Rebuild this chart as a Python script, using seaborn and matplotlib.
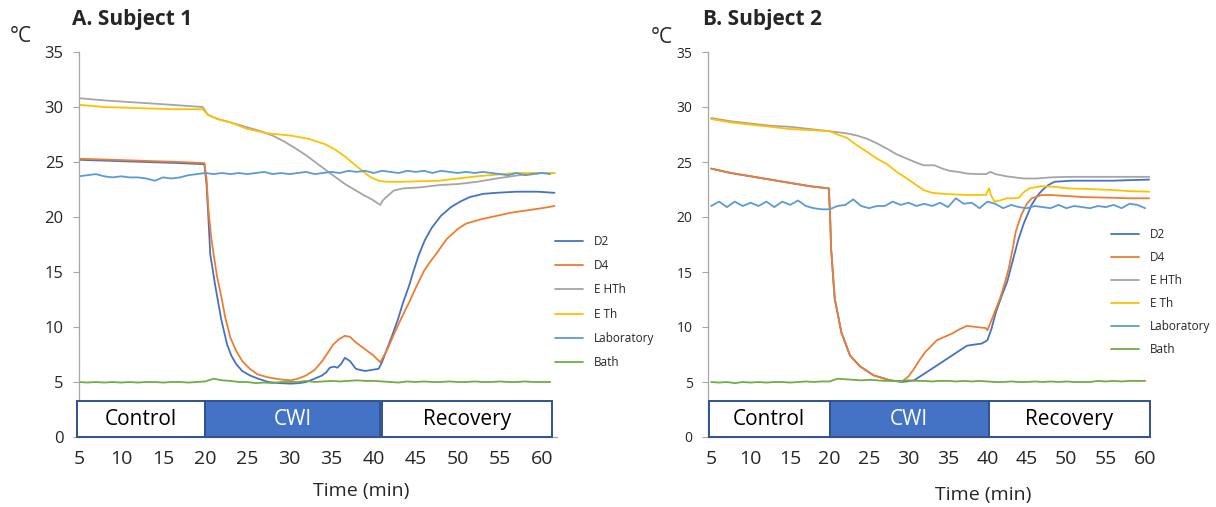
import matplotlib
matplotlib.use("Agg")
import matplotlib.pyplot as plt
from matplotlib.patches import Rectangle
import seaborn as sns

# ---------------- data: Subject 1 ----------------
a_d2_t = [5, 9, 13, 17, 19.9, 20.15, 20.35, 20.6, 21.2, 21.9, 22.6, 23.1, 23.7, 24.4, 25.3,
          26.3, 27.5, 28.8, 30.2, 31.2, 32.0, 33.0, 33.9, 34.4, 34.8, 35.3, 35.7, 36.1, 36.6,
          37.2, 37.9, 38.4, 39.0, 39.8, 40.6, 41.0, 41.5, 42.2, 42.9, 43.5, 44.2, 44.8, 45.4,
          46.1, 46.9, 48.0, 49.2, 50.3, 51.4, 53.0, 54.6, 57.0, 59.5, 61.5]
a_d2_v = [25.2, 25.1, 25.0, 24.9, 24.8, 23.0, 20.3, 16.6, 13.7, 10.7, 8.4, 7.4, 6.6, 6.0, 5.6,
          5.3, 5.0, 4.9, 4.85, 4.9, 5.0, 5.3, 5.6, 5.9, 6.3, 6.4, 6.3, 6.6, 7.2,
          6.9, 6.2, 6.1, 6.0, 6.1, 6.2, 6.8, 7.8, 9.2, 10.7, 12.2, 13.7, 15.2, 16.6,
          17.9, 19.0, 20.1, 20.9, 21.4, 21.8, 22.1, 22.2, 22.3, 22.3, 22.2]

a_d4_t = [5, 9, 13, 17, 19.9, 20.15, 20.4, 20.7, 21.0, 21.4, 21.9, 22.4, 23.0, 23.7, 24.4,
          25.3, 26.2, 27.3, 28.4, 29.3, 30.2, 31.0, 32.0, 33.0, 33.9, 34.6, 35.2, 35.9, 36.6,
          37.2, 37.9, 38.6, 39.3, 40.0, 40.8, 41.6, 42.4, 43.3, 44.2, 45.1, 46.0, 46.7, 47.4,
          48.7, 50.0, 51.0, 52.8, 54.6, 56.4, 58.2, 60.0, 61.5]
a_d4_v = [25.3, 25.2, 25.1, 25.0, 24.9, 23.5, 20.5, 18.2, 16.6, 14.6, 12.8, 10.8, 9.0, 7.8, 6.9,
          6.2, 5.7, 5.45, 5.3, 5.2, 5.15, 5.3, 5.6, 6.1, 6.9, 7.7, 8.4, 8.9, 9.2,
          9.1, 8.6, 8.2, 7.8, 7.4, 6.8, 7.9, 9.3, 10.8, 12.2, 13.7, 15.1, 15.9, 16.6,
          18.0, 18.9, 19.4, 19.8, 20.1, 20.4, 20.6, 20.8, 21.0]

a_ehth_t = [5, 8, 12, 16, 19.7, 20.3, 21.5, 23.0, 24.8, 26.6, 28.0, 29.3, 30.6, 32.0, 33.4,
            34.8, 35.7, 36.6, 37.7, 38.8, 39.8, 40.8, 41.1, 41.5, 42.4, 43.5, 45.6, 47.8,
            50.1, 52.3, 54.6, 56.4, 58.2, 60.0, 61.5]
a_ehth_v = [30.8, 30.6, 30.4, 30.2, 30.0, 29.3, 28.9, 28.6, 28.2, 27.8, 27.4, 26.9, 26.3, 25.6, 24.8,
            24.0, 23.5, 23.0, 22.5, 22.0, 21.6, 21.1, 21.5, 21.8, 22.4, 22.6, 22.7, 22.9,
            23.0, 23.2, 23.5, 23.7, 23.9, 24.0, 24.0]

a_eth_t = [5, 8, 12, 16, 19.7, 20.3, 21.5, 23.0, 25.0, 27.5, 30.2, 32.3, 34.3, 35.5, 36.6,
           37.7, 38.8, 39.7, 40.6, 41.5, 43.3, 45.5, 47.8, 50.0, 52.3, 54.6, 56.8, 59.0, 61.5]
a_eth_v = [30.2, 30.0, 29.9, 29.8, 29.8, 29.3, 28.9, 28.6, 28.0, 27.6, 27.4, 27.1, 26.6, 26.1, 25.5,
           24.8, 24.1, 23.6, 23.3, 23.2, 23.2, 23.25, 23.3, 23.5, 23.7, 23.85, 24.0, 24.0, 24.0]

a_lab_t = list(range(5, 62))
a_lab_v = [23.7, 23.8, 23.9, 23.7, 23.6, 23.7, 23.6, 23.6, 23.5, 23.3,
           23.6, 23.5, 23.6, 23.8, 23.9, 24.0, 23.9, 24.0, 23.9, 24.0,
           23.9, 24.0, 24.1, 23.9, 24.0, 23.9, 24.0, 24.1, 23.9, 24.0,
           24.1, 24.0, 24.2, 24.1, 24.2, 24.0, 24.2, 24.1, 24.0, 24.2,
           24.1, 24.2, 24.0, 24.2, 24.1, 24.0, 24.1, 24.0, 24.1, 24.0,
           23.9, 23.8, 24.0, 23.8, 23.9, 24.0, 23.9]

a_bath_t = list(range(5, 62))
a_bath_v = [5.0, 4.95, 5.0, 4.95, 5.0, 4.95, 5.0, 4.95, 5.0, 5.0,
            4.95, 5.0, 5.0, 4.95, 5.0, 5.05, 5.3, 5.15, 5.1, 5.0,
            5.0, 4.9, 4.95, 4.9, 5.0, 5.0, 5.0, 5.1, 5.0, 5.05,
            5.1, 5.05, 5.1, 5.15, 5.1, 5.1, 5.05, 5.0, 4.95, 5.05,
            5.0, 5.05, 5.0, 5.0, 5.05, 5.0, 5.0, 5.05, 5.0, 5.0,
            5.05, 5.0, 5.0, 5.05, 5.0, 5.0, 5.0]

# ---------------- data: Subject 2 ----------------
b_d2_t = [5, 7.5, 10, 12.5, 15, 17.5, 19.9, 20.05, 20.2, 20.65, 21.5, 22.6, 23.9, 25.6, 27.7,
          29.2, 30.7, 32.1, 33.6, 35.5, 37.4, 39.3, 40.0, 40.5, 41.1, 41.8, 42.5, 43.2, 43.9,
          44.6, 45.6, 46.3, 46.9, 47.7, 48.5, 50.6, 53.0, 55.9, 58.0, 60.5]
b_d2_v = [24.4, 24.0, 23.7, 23.4, 23.1, 22.8, 22.6, 20.5, 17.1, 12.6, 9.5, 7.4, 6.4, 5.6, 5.15,
          5.0, 5.15, 5.8, 6.5, 7.4, 8.3, 8.5, 8.8, 9.8, 11.4, 12.8, 14.1, 16.0, 17.9,
          19.4, 21.1, 21.9, 22.4, 22.9, 23.2, 23.3, 23.3, 23.3, 23.35, 23.4]

b_d4_t = [5, 7.5, 10, 12.5, 15, 17.5, 19.9, 20.05, 20.2, 20.65, 21.5, 22.6, 23.9, 25.6, 27.7,
          29.2, 30.0, 30.7, 31.4, 32.1, 33.6, 35.5, 36.5, 37.4, 38.6, 39.8, 40.0, 40.45, 41.0,
          41.6, 42.2, 42.7, 43.2, 43.6, 44.3, 45.0, 45.6, 46.9, 48.0, 50.2, 52.6, 55.9, 58.0, 60.5]
b_d4_v = [24.4, 24.0, 23.7, 23.4, 23.1, 22.8, 22.6, 20.5, 17.1, 12.6, 9.5, 7.4, 6.4, 5.6, 5.15,
          5.05, 5.5, 6.2, 7.0, 7.7, 8.8, 9.4, 9.8, 10.1, 10.0, 9.9, 9.7, 10.5, 11.5,
          12.6, 14.0, 15.3, 17.1, 18.7, 20.2, 21.2, 21.7, 22.0, 22.0, 21.9, 21.8, 21.75, 21.7, 21.7]

b_ehth_t = [5, 7.5, 10, 12.5, 15, 17.5, 20, 22.2, 23.5, 24.8, 26.0, 27.3, 28.5, 29.8, 30.8,
            31.9, 33.3, 34.3, 35.2, 36.3, 37.4, 38.6, 39.8, 40.4, 41.0, 42.4, 43.5, 44.6, 46.2,
            47.9, 50.2, 52.6, 55.9, 58.0, 60.5]
b_ehth_v = [29.0, 28.7, 28.5, 28.3, 28.2, 28.0, 27.8, 27.6, 27.4, 27.1, 26.7, 26.2, 25.7, 25.3, 25.0,
            24.7, 24.7, 24.4, 24.2, 24.1, 23.95, 23.9, 23.9, 24.1, 23.9, 23.7, 23.6, 23.5, 23.5,
            23.6, 23.65, 23.65, 23.65, 23.65, 23.65]

b_eth_t = [5, 7.5, 10, 12.5, 15, 17.5, 20, 21.0, 22.2, 23.5, 24.8, 26.0, 27.3, 28.5, 29.8,
           30.8, 31.9, 33.0, 34.5, 36.0, 37.4, 38.6, 39.8, 40.2, 40.5, 40.9, 41.6, 42.4, 43.3,
           44.0, 44.5, 45.3, 46.8, 48.5, 50.2, 52.6, 55.9, 58.0, 60.5]
b_eth_v = [28.9, 28.6, 28.4, 28.2, 28.0, 27.9, 27.8, 27.5, 27.2, 26.5, 25.9, 25.3, 24.8, 24.1, 23.5,
           23.0, 22.45, 22.2, 22.1, 22.05, 22.0, 22.0, 22.0, 22.6, 21.9, 21.4, 21.5, 21.7, 21.7,
           21.75, 22.2, 22.6, 22.8, 22.75, 22.6, 22.55, 22.45, 22.35, 22.3]

b_lab_t = list(range(5, 61))
b_lab_v = [21.0, 21.4, 20.9, 21.4, 21.0, 21.3, 21.0, 21.4, 20.9, 21.4,
           21.1, 21.5, 21.0, 20.8, 20.7, 20.7, 21.0, 21.1, 21.6, 21.0,
           20.8, 21.0, 21.0, 21.4, 21.1, 21.3, 21.0, 21.2, 21.0, 21.3,
           20.9, 21.7, 21.2, 21.3, 20.8, 21.4, 21.2, 20.8, 21.1, 20.9,
           20.8, 21.0, 20.9, 20.8, 21.1, 20.8, 21.0, 20.9, 20.8, 21.0,
           20.9, 21.1, 20.8, 21.2, 21.1, 20.8]

b_bath_t = list(range(5, 61))
b_bath_v = [5.0, 4.95, 5.0, 4.9, 5.0, 4.95, 5.0, 4.95, 5.0, 5.0,
            4.95, 5.0, 5.05, 5.0, 5.05, 5.05, 5.3, 5.25, 5.2, 5.15,
            5.2, 5.15, 5.1, 5.1, 5.1, 5.15, 5.1, 5.1, 5.05, 5.1,
            5.1, 5.05, 5.1, 5.05, 5.1, 5.05, 5.0, 5.0, 5.05, 5.0,
            5.0, 5.05, 5.0, 5.05, 5.0, 5.05, 5.0, 5.0, 5.0, 5.1,
            5.05, 5.1, 5.05, 5.1, 5.1, 5.1]

series_names = ["D2", "D4", "E HTh", "E Th", "Laboratory", "Bath"]
series_colors = ["#4472C4", "#ED7D31", "#A5A5A5", "#FFC000", "#5B9BD5", "#70AD47"]
y_ticks = [0, 5, 10, 15, 20, 25, 30, 35]
x_ticks = [5, 10, 15, 20, 25, 30, 35, 40, 45, 50, 55, 60]

sns.set_style("white")
plt.rcParams["font.family"] = ["Open Sans", "DejaVu Sans"]

fig = plt.figure(figsize=(12.16, 5.07), dpi=100)
W, H = 1216, 507


def panel(ax, data, xlim, phases, ytick_size, leg_anchor, leg_spacing):
    for (t, v), name, col in zip(data, series_names, series_colors):
        sns.lineplot(x=t, y=v, ax=ax, color=col, linewidth=1.3, label=name, sort=False)
    ax.set_xlim(*xlim)
    ax.set_ylim(0, 35)
    ax.set_xticks(x_ticks)
    ax.set_yticks(y_ticks)
    ax.tick_params(axis="x", length=0, pad=9, labelsize=14)
    ax.tick_params(axis="y", length=4, width=0.8, color="#A6A6A6", pad=7,
                   labelsize=ytick_size, left=True)
    for s in ["top", "right"]:
        ax.spines[s].set_visible(False)
    for s in ["left", "bottom"]:
        ax.spines[s].set_color("#A6A6A6")
        ax.spines[s].set_linewidth(0.9)
    ax.set_xlabel("")
    ax.set_ylabel("")
    # phase boxes
    for (x0, x1, label, fill, tcol) in phases:
        ax.add_patch(Rectangle((x0, 0), x1 - x0, 3.25, facecolor=fill, edgecolor="#2F528F",
                               linewidth=1.4, zorder=5, clip_on=False))
        ax.text((x0 + x1) / 2, 1.6, label, ha="center", va="center", fontsize=15,
                color=tcol, zorder=6)
    ax.legend(loc="upper left", bbox_to_anchor=leg_anchor, bbox_transform=fig.transFigure,
              frameon=False, fontsize=8.5, handlelength=2.4, handletextpad=0.9,
              labelspacing=leg_spacing, borderaxespad=0, borderpad=0)


axA = fig.add_axes([79 / W, 1 - 437 / H, (557 - 79) / W, (437 - 52) / H])
panel(axA,
      [(a_d2_t, a_d2_v), (a_d4_t, a_d4_v), (a_ehth_t, a_ehth_v), (a_eth_t, a_eth_v),
       (a_lab_t, a_lab_v), (a_bath_t, a_bath_v)],
      (5, 61.8),
      [(4.8, 20, "Control", "white", "black"), (20, 40.8, "CWI", "#4472C4", "white"),
       (41.0, 61.2, "Recovery", "white", "black")],
      12, (555 / W, 1 - 235 / H), 0.95)

axB = fig.add_axes([708 / W, 1 - 437 / H, (1150 - 708) / W, (437 - 52) / H])
panel(axB,
      [(b_d2_t, b_d2_v), (b_d4_t, b_d4_v), (b_ehth_t, b_ehth_v), (b_eth_t, b_eth_v),
       (b_lab_t, b_lab_v), (b_bath_t, b_bath_v)],
      (4.6, 60.6),
      [(4.7, 20, "Control", "white", "black"), (20, 40.2, "CWI", "#4472C4", "white"),
       (40.2, 60.6, "Recovery", "white", "black")],
      10, (1111 / W, 1 - 228 / H), 0.85)

# titles, units, axis titles
fig.text(72 / W, 1 - 20 / H, "A. Subject 1", fontsize=15, fontweight="bold", va="center")
fig.text(703 / W, 1 - 20 / H, "B. Subject 2", fontsize=15, fontweight="bold", va="center")
fig.text(10 / W, 1 - 36 / H, "°C", fontsize=15, va="center")
fig.text(651 / W, 1 - 38 / H, "°C", fontsize=15, va="center")
fig.text(361 / W, 1 - 491 / H, "Time (min)", fontsize=14, ha="center", va="center")
fig.text(983 / W, 1 - 495 / H, "Time (min)", fontsize=14, ha="center", va="center")

fig.savefig("out.png", dpi=100)
